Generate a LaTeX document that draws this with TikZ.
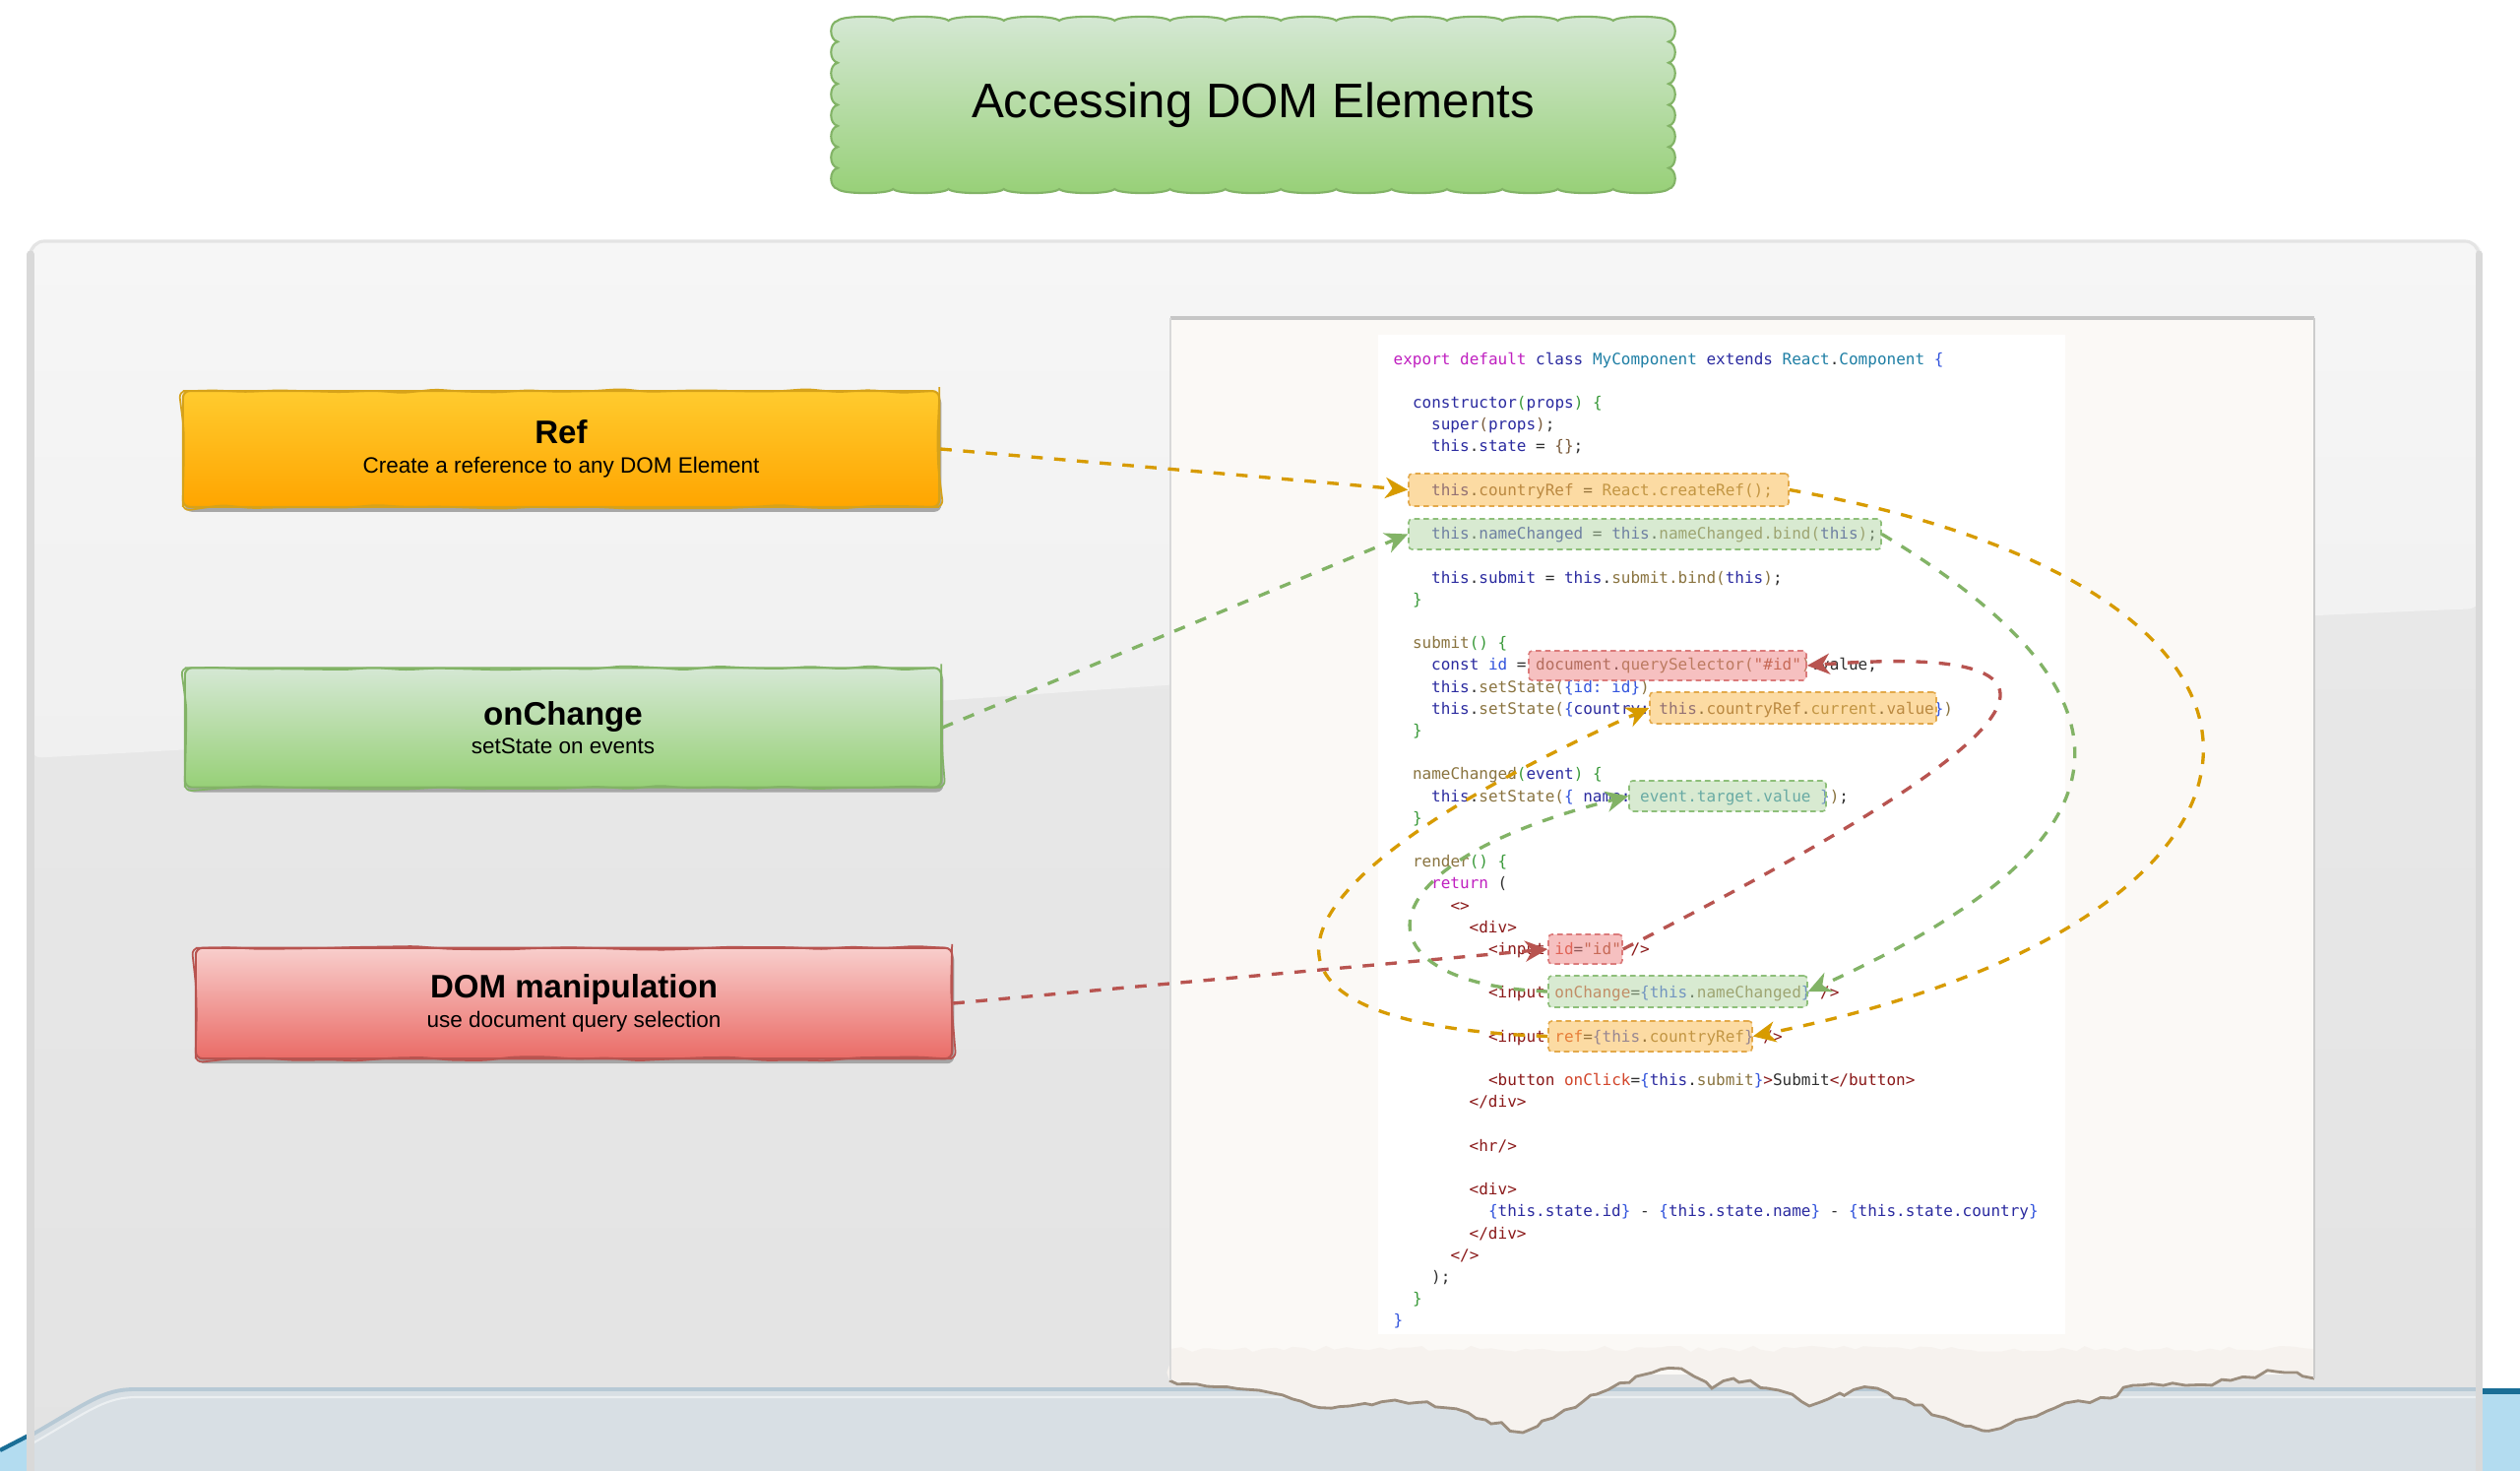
\documentclass[tikz,border=0pt]{standalone}
\usepackage{fontspec}
\setmainfont{Liberation Sans}
\newfontfamily\codefont{DejaVu Sans Mono}
\usetikzlibrary{arrows.meta,fit,shadows,decorations.pathmorphing}

\definecolor{refline}{HTML}{D79B00}
\definecolor{chgline}{HTML}{82B366}
\definecolor{domline}{HTML}{B85450}
\definecolor{reftop}{HTML}{FFCB2E}
\definecolor{refbot}{HTML}{FFA500}
\definecolor{refrim}{HTML}{D6A21A}
\definecolor{chgtop}{HTML}{D5E8D4}
\definecolor{chgbot}{HTML}{97D077}
\definecolor{domtop}{HTML}{F8CECC}
\definecolor{dombot}{HTML}{EA6B66}
\definecolor{reffill}{HTML}{FBB848}
\definecolor{chgfill}{HTML}{B2D6A4}
\definecolor{domfill}{HTML}{EE8282}
\definecolor{refedge}{HTML}{E3A94A}
\definecolor{chgedge}{HTML}{8EBF7A}
\definecolor{domedge}{HTML}{DB7B7B}
\definecolor{panelhi}{HTML}{F6F6F6}
\definecolor{panelmid}{HTML}{F0F0F0}
\definecolor{panellow}{HTML}{EAEAEA}
\definecolor{panelend}{HTML}{E3E3E3}
\definecolor{panelrim}{HTML}{D9D9D9}
\definecolor{paneltop}{HTML}{E4E4E4}
\definecolor{plate}{HTML}{D8DFE4}
\definecolor{plateedge}{HTML}{B7C9D5}
\definecolor{skyblue}{HTML}{B3DCF0}
\definecolor{deepblue}{HTML}{1A6E96}
\definecolor{paper}{HTML}{FBF9F6}
\definecolor{tornpaper}{HTML}{F6F2EE}
\definecolor{tornshade}{HTML}{9C8E7E}
\definecolor{codeink}{HTML}{303030}
\definecolor{cmag}{HTML}{C020C0}
\definecolor{cnav}{HTML}{2B2BA0}
\definecolor{cteal}{HTML}{1F7FA5}
\definecolor{cblu}{HTML}{3355DD}
\definecolor{col}{HTML}{8A7440}
\definecolor{cgr}{HTML}{3A9A3A}
\definecolor{ctag}{HTML}{8B1A1A}
\definecolor{cat}{HTML}{D2452A}
\definecolor{cstr}{HTML}{A0522D}
\definecolor{cbr}{HTML}{7A5A3A}

\newcommand\cMag[1]{\textcolor{cmag}{#1}}
\newcommand\cNav[1]{\textcolor{cnav}{#1}}
\newcommand\cTeal[1]{\textcolor{cteal}{#1}}
\newcommand\cBlu[1]{\textcolor{cblu}{#1}}
\newcommand\cOl[1]{\textcolor{col}{#1}}
\newcommand\cGr[1]{\textcolor{cgr}{#1}}
\newcommand\cTag[1]{\textcolor{ctag}{#1}}
\newcommand\cAt[1]{\textcolor{cat}{#1}}
\newcommand\cStr[1]{\textcolor{cstr}{#1}}
\newcommand\cBr[1]{\textcolor{cbr}{#1}}

\tikzset{
  topic/.style n args={3}{rectangle, rounded corners=2pt, draw=#3, line width=0.6pt,
    top color=#1, bottom color=#2, minimum width=218.5pt, align=center, inner sep=0pt,
    font=\fontsize{6.4}{8.4}\selectfont,
    drop shadow={shadow xshift=0.6pt, shadow yshift=-1.4pt, fill=gray!75, opacity=0.9},
    postaction={draw=#3, line width=0.5pt, decorate,
      decoration={random steps, segment length=9pt, amplitude=0.6pt}}},
  hlbox/.style={rectangle, dashed, dash pattern=on 1.6pt off 1.1pt, line width=0.45pt,
    rounded corners=1pt, fill opacity=0.5, inner sep=0pt},
  link/.style={dash pattern=on 3.3pt off 3.3pt, line width=0.95pt,
    -{Stealth[length=6.5pt,width=6pt,inset=2pt]}},
  codetext/.style={anchor=base west, inner sep=0pt, text=codeink,
    font=\codefont\fontsize{4.55}{6.3}\selectfont\frenchspacing},
  headline/.style={anchor=base, inner sep=0pt, font=\fontsize{14}{16}\selectfont}
}

\begin{document}
\begin{tikzpicture}[x=0.01cm,y=-0.01cm]
\useasboundingbox (0,0) rectangle (2560,1494);
\fill[white] (0,0) rectangle (2560,1494);

% panel and its gloss
\shade[top color=panellow, bottom color=panelend, rounded corners=4pt]
  (29,1520) -- (29,245) -- (2521,245) -- (2521,1520) -- cycle;
\shade[top color=panelhi, bottom color=panelmid, rounded corners=4pt]
  (29,770) -- (29,245) -- (2521,245) -- (2521,618) .. controls (1700,650) and (800,730) .. (29,770) -- cycle;

% floor at the bottom
\fill[plate] (31,1458) .. controls (90,1424) and (105,1411) .. (137,1411) -- (2521,1411) -- (2521,1494) -- (31,1494) -- cycle;
\draw[plateedge, line width=1.1pt] (31,1458) .. controls (90,1424) and (105,1411) .. (137,1411) -- (2521,1411);
\draw[white, opacity=0.5, line width=0.6pt] (33,1466) .. controls (92,1432) and (107,1419) .. (139,1419) -- (2519,1419);
\fill[skyblue] (0,1473) -- (29,1458) -- (29,1494) -- (0,1494) -- cycle;
\draw[deepblue, line width=1.2pt] (0,1473) -- (29,1458);
\fill[skyblue] (2521,1412) rectangle (2560,1494);
\draw[deepblue, line width=1.6pt] (2521,1413) -- (2560,1413);
\draw[paneltop, line width=0.9pt, rounded corners=4pt] (31,300) -- (31,245) -- (2518,245) -- (2518,300);
\draw[panelrim, line width=2pt, line cap=round] (31,258) -- (31,1520);
\draw[panelrim, line width=2pt, line cap=round] (2518,258) -- (2518,1520);

% torn sheet with the code
\fill[paper] (1189,323) rectangle (2351,1396);
\pgfmathsetseed{5}
\fill[tornpaper, decorate, decoration={random steps, segment length=3pt, amplitude=0.9pt}]
  (2351,1400) -- (2312,1393) -- (2266,1402) -- (2220,1407) -- (2167,1407) -- (2144,1420)
  -- (2098,1425) -- (2060,1440) -- (2014,1453) -- (1983,1443) -- (1945,1427) -- (1907,1410)
  -- (1869,1415) -- (1838,1428) -- (1807,1412) -- (1761,1400) -- (1739,1410) -- (1708,1390)
  -- (1662,1398) -- (1616,1417) -- (1578,1440) -- (1547,1455) -- (1509,1442) -- (1471,1430)
  -- (1417,1422) -- (1371,1428) -- (1333,1428) -- (1279,1412) -- (1226,1408) -- (1188,1402)
  -- (1189,1370) -- (2351,1370) -- cycle;
\pgfmathsetseed{5}
\draw[tornshade, line width=0.8pt, decorate, decoration={random steps, segment length=3pt, amplitude=0.9pt}]
  (2351,1400) -- (2312,1393) -- (2266,1402) -- (2220,1407) -- (2167,1407) -- (2144,1420)
  -- (2098,1425) -- (2060,1440) -- (2014,1453) -- (1983,1443) -- (1945,1427) -- (1907,1410)
  -- (1869,1415) -- (1838,1428) -- (1807,1412) -- (1761,1400) -- (1739,1410) -- (1708,1390)
  -- (1662,1398) -- (1616,1417) -- (1578,1440) -- (1547,1455) -- (1509,1442) -- (1471,1430)
  -- (1417,1422) -- (1371,1428) -- (1333,1428) -- (1279,1412) -- (1226,1408) -- (1188,1402);
\fill[white] (1400,340) rectangle (2098,1355);
\draw[gray!45, line width=1pt] (1189,323) -- (2351,323);
\draw[gray!30, line width=0.4pt] (1189,323) -- (1189,1402);
\draw[gray!40, line width=0.4pt] (2351,323) -- (2351,1400);

% title with scalloped rim
\shade[top color=chgtop, bottom color=chgbot, draw=chgline, line width=0.6pt]
  (851,21)
  \foreach \i [evaluate=\i as \xa using 851+\i*56.27] in {0,...,14} {
    .. controls ({\xa+5},15.5) and ({\xa+51.3},15.5) .. ({\xa+56.27},21) }
  \foreach \i [evaluate=\i as \ya using 21+\i*21.375] in {0,...,7} {
    .. controls (1704,{\ya+2}) and (1704,{\ya+19.4}) .. (1695,{\ya+21.375}) }
  \foreach \i [evaluate=\i as \xa using 1695-\i*56.27] in {0,...,14} {
    .. controls ({\xa-5},197.5) and ({\xa-51.3},197.5) .. ({\xa-56.27},192) }
  \foreach \i [evaluate=\i as \ya using 192-\i*21.375] in {0,...,7} {
    .. controls (842,{\ya-2}) and (842,{\ya-19.4}) .. (851,{\ya-21.375}) }
  -- cycle;
\node[headline] (title) at (1273,120) {Accessing DOM Elements};

% the three topics
\node[topic={reftop}{refbot}{refrim}, minimum height=33.5pt] (ref) at (570,456)
  {{\fontsize{9.4}{8.4}\selectfont\bfseries Ref}\\Create a reference to any DOM Element};
\node[topic={chgtop}{chgbot}{chgline}, minimum height=34.5pt] (chg) at (572,739)
  {{\fontsize{9.4}{8.4}\selectfont\bfseries onChange}\\setState on events};
\node[topic={domtop}{dombot}{domline}, minimum height=32pt] (dom) at (583,1019)
  {{\fontsize{9.4}{8.4}\selectfont\bfseries DOM manipulation}\\use document query selection};

% code lines
\node[codetext] (ln0) at (1415,370) {\cMag{export default} \cNav{class} \cTeal{MyComponent} \cNav{extends} \cTeal{React}.\cTeal{Component} \cBlu{\{}};
\node[codetext] (ln2) at (1434.3,414.4) {\cNav{constructor}\cGr{(}\cNav{props}\cGr{)} \cGr{\{}};
\node[codetext] (ln3) at (1453.5,436.6) {\cNav{super}\cBr{(}\cNav{props}\cBr{)};};
\node[codetext] (ln4) at (1453.5,458.8) {\cNav{this}.\cNav{state} = \cBr{\{\}};};
\node[codetext] (ln6) at (1453.5,503.2) {\cNav{this}.\cBr{countryRef} = \cOl{React.createRef();}};
\node[codetext] (ln8) at (1453.5,547.6) {\cNav{this}.\cNav{nameChanged} = \cNav{this}.\cOl{nameChanged.bind(}\cNav{this}\cOl{)};};
\node[codetext] (ln10) at (1453.5,592) {\cNav{this}.\cNav{submit} = \cNav{this}.\cOl{submit.bind(}\cNav{this}\cOl{)};};
\node[codetext] (ln11) at (1434.3,614.2) {\cGr{\}}};
\node[codetext] (ln13) at (1434.3,658.6) {\cOl{submit}\cGr{()} \cGr{\{}};
\node[codetext] (ln14) at (1453.5,680.8) {\cNav{const} \cBlu{id} = \cBr{document}.\cOl{querySelector(}\cStr{"\#id"}\cOl{)}.value;};
\node[codetext] (ln15) at (1453.5,703) {\cNav{this}.\cOl{setState(}\cBlu{\{id: id\}}\cOl{)}};
\node[codetext] (ln16) at (1453.5,725.2) {\cNav{this}.\cOl{setState(}\cBlu{\{}\cNav{country:} \cNav{this}.\cBr{countryRef}.\cOl{current}.\cBr{value}\cBlu{\}}\cOl{)}};
\node[codetext] (ln17) at (1434.3,747.4) {\cGr{\}}};
\node[codetext] (ln19) at (1434.3,791.8) {\cOl{nameChanged}\cGr{(}\cNav{event}\cGr{)} \cGr{\{}};
\node[codetext] (ln20) at (1453.5,814) {\cNav{this}.\cOl{setState(}\cBlu{\{} \cNav{name:} \cTeal{event.target.value} \cBlu{\}}\cOl{)};};
\node[codetext] (ln21) at (1434.3,836.2) {\cGr{\}}};
\node[codetext] (ln23) at (1434.3,880.6) {\cOl{render}\cGr{()} \cGr{\{}};
\node[codetext] (ln24) at (1453.5,902.8) {\cMag{return} (};
\node[codetext] (ln25) at (1472.8,925) {\cTag{<>}};
\node[codetext] (ln26) at (1492,947.2) {\cTag{<div>}};
\node[codetext] (ln27) at (1511.3,969.4) {\cTag{<input} \cAt{id}=\cStr{"id"} \cTag{/>}};
\node[codetext] (ln29) at (1511.3,1013.8) {\cTag{<input} \cAt{onChange}=\cBlu{\{this}.\cOl{nameChanged}\cBlu{\}} \cTag{/>}};
\node[codetext] (ln31) at (1511.3,1058.2) {\cTag{<input} \cAt{ref}=\cBlu{\{this}.\cOl{countryRef}\cBlu{\}} \cTag{/>}};
\node[codetext] (ln33) at (1511.3,1102.6) {\cTag{<button} \cAt{onClick}=\cBlu{\{}\cNav{this}.\cOl{submit}\cBlu{\}}\cTag{>}Submit\cTag{</button>}};
\node[codetext] (ln34) at (1492,1124.8) {\cTag{</div>}};
\node[codetext] (ln36) at (1492,1169.2) {\cTag{<hr/>}};
\node[codetext] (ln38) at (1492,1213.6) {\cTag{<div>}};
\node[codetext] (ln39) at (1511.3,1235.8) {\cBlu{\{}\cNav{this.state.id}\cBlu{\}} - \cBlu{\{}\cNav{this.state.name}\cBlu{\}} - \cBlu{\{}\cNav{this.state.country}\cBlu{\}}};
\node[codetext] (ln40) at (1492,1258) {\cTag{</div>}};
\node[codetext] (ln41) at (1472.8,1280.2) {\cTag{</>}};
\node[codetext] (ln42) at (1453.5,1302.4) {);};
\node[codetext] (ln43) at (1434.3,1324.6) {\cGr{\}}};
\node[codetext] (ln44) at (1415,1346.8) {\cBlu{\}}};

% marked parts of the code
\node[hlbox, draw=refedge, fill=reffill, fit={(1431,481) (1817,514)}] (hlRef) {};
\node[hlbox, draw=chgedge, fill=chgfill, fit={(1431,527) (1911,558)}] (hlBind) {};
\node[hlbox, draw=domedge, fill=domfill, fit={(1553,661) (1835,691)}] (hlQuery) {};
\node[hlbox, draw=refedge, fill=reffill, fit={(1676,703) (1967,735)}] (hlCur) {};
\node[hlbox, draw=chgedge, fill=chgfill, fit={(1655,793) (1855,824)}] (hlTarget) {};
\node[hlbox, draw=domedge, fill=domfill, fit={(1573,949) (1648,979)}] (hlId) {};
\node[hlbox, draw=chgedge, fill=chgfill, fit={(1573,991) (1836,1023)}] (hlChange) {};
\node[hlbox, draw=refedge, fill=reffill, fit={(1573,1037) (1780,1068)}] (hlRefAttr) {};

% connectors
\draw[link, refline] (ref.east) -- (hlRef.west);
\draw[link, chgline] (chg.east) -- (hlBind.west);
\draw[link, domline] (dom.east) -- (hlId.west);
\draw[link, refline] (hlRef.east) .. controls (2398,600) and (2366,935) .. (hlRefAttr.east);
\draw[link, chgline] (hlBind.east) .. controls (2217,726) and (2142,869) .. (hlChange.east);
\draw[link, domline] (hlId.east) .. controls (2030,770) and (2180,650) .. (hlQuery.east);
\draw[link, refline] (hlRefAttr.west) .. controls (1230,1040) and (1270,900) .. (hlCur.west);
\draw[link, chgline] (hlChange.west) .. controls (1380,1000) and (1370,880) .. (hlTarget.west);
\end{tikzpicture}
\end{document}
